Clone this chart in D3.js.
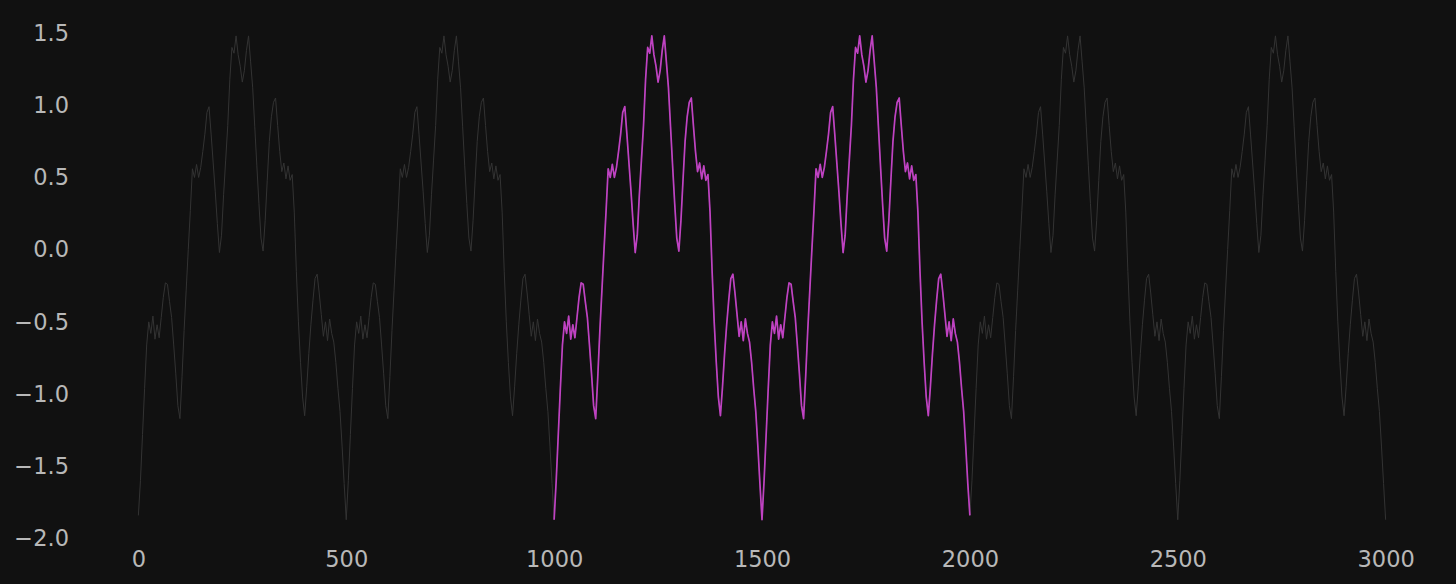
<!DOCTYPE html>
<html>
<head>
<meta charset="utf-8">
<script src="https://cdn.jsdelivr.net/npm/d3@7/dist/d3.min.js"></script>
<style>
  html, body { margin: 0; padding: 0; background: #111111; }
  svg { display: block; }
</style>
</head>
<body>
<svg id="chart" width="1456" height="584"></svg>
<script>
// x positions of samples (step 5 from 0 to 3000)
const xStep = 5;
const xStart = 0;
// signal values, one per sample (0, 5, 10, ... 3000)
const signalValues = [
  // 0 - 495
  -1.84,-1.60,-1.28,-0.96,-0.66,-0.50,-0.58,-0.46,-0.62,-0.52,
  -0.61,-0.47,-0.33,-0.23,-0.24,-0.36,-0.47,-0.66,-0.86,-1.08,
  -1.17,-0.88,-0.56,-0.28,0.00,0.27,0.56,0.50,0.59,0.50,
  0.57,0.68,0.80,0.95,0.99,0.80,0.60,0.40,0.18,-0.02,
  0.10,0.38,0.62,0.86,1.18,1.40,1.36,1.48,1.35,1.27,
  1.16,1.24,1.38,1.48,1.30,1.12,0.85,0.58,0.32,0.08,
  -0.01,0.20,0.48,0.75,0.92,1.02,1.05,0.86,0.68,0.54,
  0.60,0.49,0.58,0.48,0.52,0.26,-0.15,-0.50,-0.78,-1.02,
  -1.15,-0.95,-0.72,-0.52,-0.35,-0.20,-0.17,-0.30,-0.45,-0.60,
  -0.50,-0.63,-0.48,-0.58,-0.64,-0.78,-0.96,-1.12,-1.36,-1.62,
  // 500 - 995
  -1.87,-1.60,-1.28,-0.96,-0.66,-0.50,-0.58,-0.46,-0.62,-0.52,
  -0.61,-0.47,-0.33,-0.23,-0.24,-0.36,-0.47,-0.66,-0.86,-1.08,
  -1.17,-0.88,-0.56,-0.28,0.00,0.27,0.56,0.50,0.59,0.50,
  0.57,0.68,0.80,0.95,0.99,0.80,0.60,0.40,0.18,-0.02,
  0.10,0.38,0.62,0.86,1.18,1.40,1.36,1.48,1.35,1.27,
  1.16,1.24,1.38,1.48,1.30,1.12,0.85,0.58,0.32,0.08,
  -0.01,0.20,0.48,0.75,0.92,1.02,1.05,0.86,0.68,0.54,
  0.60,0.49,0.58,0.48,0.52,0.26,-0.15,-0.50,-0.78,-1.02,
  -1.15,-0.95,-0.72,-0.52,-0.35,-0.20,-0.17,-0.30,-0.45,-0.60,
  -0.50,-0.63,-0.48,-0.58,-0.64,-0.78,-0.96,-1.12,-1.36,-1.62,
  // 1000 - 1495
  -1.87,-1.60,-1.28,-0.96,-0.66,-0.50,-0.58,-0.46,-0.62,-0.52,
  -0.61,-0.47,-0.33,-0.23,-0.24,-0.36,-0.47,-0.66,-0.86,-1.08,
  -1.17,-0.88,-0.56,-0.28,0.00,0.27,0.56,0.50,0.59,0.50,
  0.57,0.68,0.80,0.95,0.99,0.80,0.60,0.40,0.18,-0.02,
  0.10,0.38,0.62,0.86,1.18,1.40,1.36,1.48,1.35,1.27,
  1.16,1.24,1.38,1.48,1.30,1.12,0.85,0.58,0.32,0.08,
  -0.01,0.20,0.48,0.75,0.92,1.02,1.05,0.86,0.68,0.54,
  0.60,0.49,0.58,0.48,0.52,0.26,-0.15,-0.50,-0.78,-1.02,
  -1.15,-0.95,-0.72,-0.52,-0.35,-0.20,-0.17,-0.30,-0.45,-0.60,
  -0.50,-0.63,-0.48,-0.58,-0.64,-0.78,-0.96,-1.12,-1.36,-1.62,
  // 1500 - 1995
  -1.87,-1.60,-1.28,-0.96,-0.66,-0.50,-0.58,-0.46,-0.62,-0.52,
  -0.61,-0.47,-0.33,-0.23,-0.24,-0.36,-0.47,-0.66,-0.86,-1.08,
  -1.17,-0.88,-0.56,-0.28,0.00,0.27,0.56,0.50,0.59,0.50,
  0.57,0.68,0.80,0.95,0.99,0.80,0.60,0.40,0.18,-0.02,
  0.10,0.38,0.62,0.86,1.18,1.40,1.36,1.48,1.35,1.27,
  1.16,1.24,1.38,1.48,1.30,1.12,0.85,0.58,0.32,0.08,
  -0.01,0.20,0.48,0.75,0.92,1.02,1.05,0.86,0.68,0.54,
  0.60,0.49,0.58,0.48,0.52,0.26,-0.15,-0.50,-0.78,-1.02,
  -1.15,-0.95,-0.72,-0.52,-0.35,-0.20,-0.17,-0.30,-0.45,-0.60,
  -0.50,-0.63,-0.48,-0.58,-0.64,-0.78,-0.96,-1.12,-1.36,-1.62,
  // 2000 - 2495
  -1.84,-1.60,-1.28,-0.96,-0.66,-0.50,-0.58,-0.46,-0.62,-0.52,
  -0.61,-0.47,-0.33,-0.23,-0.24,-0.36,-0.47,-0.66,-0.86,-1.08,
  -1.17,-0.88,-0.56,-0.28,0.00,0.27,0.56,0.50,0.59,0.50,
  0.57,0.68,0.80,0.95,0.99,0.80,0.60,0.40,0.18,-0.02,
  0.10,0.38,0.62,0.86,1.18,1.40,1.36,1.48,1.35,1.27,
  1.16,1.24,1.38,1.48,1.30,1.12,0.85,0.58,0.32,0.08,
  -0.01,0.20,0.48,0.75,0.92,1.02,1.05,0.86,0.68,0.54,
  0.60,0.49,0.58,0.48,0.52,0.26,-0.15,-0.50,-0.78,-1.02,
  -1.15,-0.95,-0.72,-0.52,-0.35,-0.20,-0.17,-0.30,-0.45,-0.60,
  -0.50,-0.63,-0.48,-0.58,-0.64,-0.78,-0.96,-1.12,-1.36,-1.62,
  // 2500 - 2995
  -1.87,-1.60,-1.28,-0.96,-0.66,-0.50,-0.58,-0.46,-0.62,-0.52,
  -0.61,-0.47,-0.33,-0.23,-0.24,-0.36,-0.47,-0.66,-0.86,-1.08,
  -1.17,-0.88,-0.56,-0.28,0.00,0.27,0.56,0.50,0.59,0.50,
  0.57,0.68,0.80,0.95,0.99,0.80,0.60,0.40,0.18,-0.02,
  0.10,0.38,0.62,0.86,1.18,1.40,1.36,1.48,1.35,1.27,
  1.16,1.24,1.38,1.48,1.30,1.12,0.85,0.58,0.32,0.08,
  -0.01,0.20,0.48,0.75,0.92,1.02,1.05,0.86,0.68,0.54,
  0.60,0.49,0.58,0.48,0.52,0.26,-0.15,-0.50,-0.78,-1.02,
  -1.15,-0.95,-0.72,-0.52,-0.35,-0.20,-0.17,-0.30,-0.45,-0.60,
  -0.50,-0.63,-0.48,-0.58,-0.64,-0.78,-0.96,-1.12,-1.36,-1.62,
  // 3000
  -1.87
];
// highlighted window
const highlightStart = 1000;
const highlightEnd = 2000;
// tick labels
const xTicks = [0, 500, 1000, 1500, 2000, 2500, 3000];
const yTicks = [-2.0, -1.5, -1.0, -0.5, 0.0, 0.5, 1.0, 1.5];

const data = signalValues.map((v, i) => ({ x: xStart + i * xStep, y: v }));
const highlighted = data.filter(d => d.x >= highlightStart && d.x <= highlightEnd);

const svg = d3.select("#chart");
const W = 1456, H = 584;
svg.append("rect").attr("width", W).attr("height", H).attr("fill", "#111111");

const x = d3.scaleLinear().domain([-150, 3150]).range([76, 1448]);
const y = d3.scaleLinear().domain([-2.0, 1.5]).range([538.5, 33]);

const fmt = v => (v < 0 ? "\u2212" : "") + Math.abs(v).toFixed(1);

const line = d3.line().x(d => x(d.x)).y(d => y(d.y));

svg.append("path")
  .datum(data)
  .attr("d", line)
  .attr("fill", "none")
  .attr("stroke", "#333333")
  .attr("stroke-width", 1)
  .attr("stroke-linejoin", "round");

svg.append("path")
  .datum(highlighted)
  .attr("d", line)
  .attr("fill", "none")
  .attr("stroke", "#bf42c2")
  .attr("stroke-width", 1.7)
  .attr("stroke-linejoin", "round");

const fontFamily = "'DejaVu Sans', sans-serif";

const yAxis = svg.append("g")
  .attr("transform", "translate(76,0)")
  .call(d3.axisLeft(y).tickValues(yTicks).tickFormat(fmt).tickSize(0).tickPadding(7));
yAxis.select(".domain").remove();
yAxis.selectAll("text")
  .attr("fill", "#b8b8b8")
  .style("font-family", fontFamily)
  .style("font-size", "22.5px");

const xAxis = svg.append("g")
  .attr("transform", "translate(0,543)")
  .call(d3.axisBottom(x).tickValues(xTicks).tickFormat(d3.format("d")).tickSize(0).tickPadding(8));
xAxis.select(".domain").remove();
xAxis.selectAll("text")
  .attr("fill", "#b8b8b8")
  .style("font-family", fontFamily)
  .style("font-size", "22.5px");
</script>
</body>
</html>
